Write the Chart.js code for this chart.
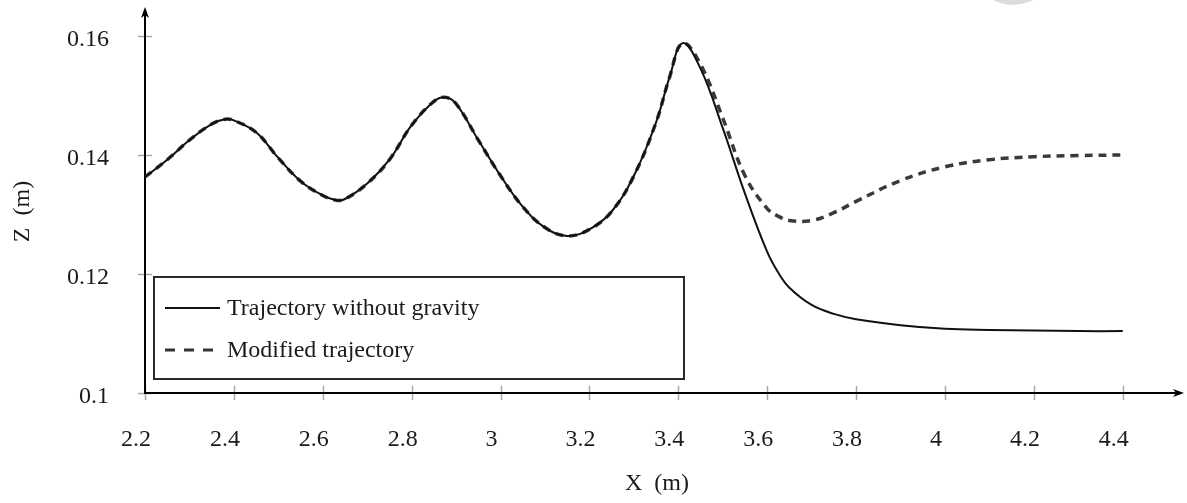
<!DOCTYPE html>
<html>
<head>
<meta charset="utf-8">
<script src="https://cdn.jsdelivr.net/npm/chart.js@4.4.1/dist/chart.umd.min.js"></script>
<style>
  html, body { margin: 0; padding: 0; background: #fff; }
  #wrap { width: 1187px; height: 503px; }
</style>
</head>
<body>
<div id="wrap"><canvas id="c" width="1187" height="503"></canvas></div>
<script>
// ---- data ----
const xValues = [2.2, 2.25, 2.3, 2.35, 2.38, 2.4, 2.45, 2.5, 2.55, 2.6, 2.63, 2.65, 2.7, 2.75, 2.8, 2.85, 2.875, 2.9, 2.95, 3.0, 3.05, 3.1, 3.15, 3.2, 3.25, 3.3, 3.35, 3.38, 3.41, 3.45, 3.5, 3.55, 3.6, 3.625, 3.65, 3.7, 3.75, 3.8, 3.9, 4.0, 4.1, 4.2, 4.3, 4.4];
const zWithoutGravity = [0.1363, 0.1392, 0.1425, 0.1452, 0.1460, 0.1458, 0.1438, 0.1395, 0.1356, 0.1332, 0.1324, 0.1326, 0.1352, 0.1392, 0.1450, 0.1490, 0.1497, 0.1486, 0.1425, 0.1365, 0.1313, 0.1278, 0.1264, 0.1275, 0.1305, 0.1365, 0.1455, 0.1530, 0.1588, 0.1545, 0.1445, 0.1335, 0.1237, 0.1202, 0.1177, 0.1148, 0.1133, 0.1124, 0.1114, 0.1108, 0.1106, 0.1105, 0.1104, 0.1104];
const zModified = [0.1363, 0.1392, 0.1425, 0.1452, 0.1460, 0.1458, 0.1438, 0.1395, 0.1356, 0.1332, 0.1324, 0.1326, 0.1352, 0.1392, 0.1450, 0.1490, 0.1497, 0.1486, 0.1425, 0.1365, 0.1313, 0.1278, 0.1264, 0.1275, 0.1305, 0.1365, 0.1455, 0.1530, 0.1588, 0.1552, 0.1462, 0.1365, 0.1310, 0.1297, 0.1290, 0.1290, 0.1303, 0.1322, 0.1357, 0.1380, 0.1392, 0.1397, 0.1399, 0.1400];
const xTickValues = [2.2, 2.4, 2.6, 2.8, 3.0, 3.2, 3.4, 3.6, 3.8, 4.0, 4.2, 4.4];
const xTickLabels = ['2.2', '2.4', '2.6', '2.8', '3', '3.2', '3.4', '3.6', '3.8', '4', '4.2', '4.4'];
const yTickValues = [0.1, 0.12, 0.14, 0.16];
const yTickLabels = ['0.1', '0.12', '0.14', '0.16'];
const seriesNames = ['Trajectory without gravity', 'Modified trajectory'];
const xTitle = 'X  (m)';
const yTitle = 'Z  (m)';

const FONT = 'Liberation Serif, Times New Roman, serif';
const FSIZE = 24;

const solidPoints = xValues.map((x, i) => ({ x: x, y: zWithoutGravity[i] }));
const dashedPoints = xValues.map((x, i) => ({ x: x, y: zModified[i] }));

const decorPlugin = {
  id: 'decor',
  beforeDraw(chart) {
    const ctx = chart.ctx;
    const xs = chart.scales.x, ys = chart.scales.y;
    const ca = chart.chartArea;
    ctx.save();
    ctx.strokeStyle = '#a8a8a8';
    ctx.lineWidth = 1.5;
    xTickValues.forEach(v => {
      const px = Math.round(xs.getPixelForValue(v)) + 0.5;
      ctx.beginPath();
      ctx.moveTo(px, ca.bottom - 7);
      ctx.lineTo(px, ca.bottom + 7);
      ctx.stroke();
    });
    yTickValues.forEach(v => {
      const py = Math.round(ys.getPixelForValue(v)) + 0.5;
      ctx.beginPath();
      ctx.moveTo(ca.left - 7, py);
      ctx.lineTo(ca.left + 7, py);
      ctx.stroke();
    });
    ctx.restore();
  },
  afterDraw(chart) {
    const ctx = chart.ctx;
    const ca = chart.chartArea;
    ctx.save();
    // axis arrows
    ctx.strokeStyle = '#000';
    ctx.fillStyle = '#000';
    ctx.lineWidth = 2;
    ctx.beginPath();
    ctx.moveTo(ca.left, ca.top);
    ctx.lineTo(ca.left, 12);
    ctx.stroke();
    ctx.beginPath();
    ctx.moveTo(ca.left, 7);
    ctx.lineTo(ca.left - 4, 18);
    ctx.lineTo(ca.left, 15);
    ctx.lineTo(ca.left + 4, 18);
    ctx.closePath();
    ctx.fill();
    ctx.beginPath();
    ctx.moveTo(ca.right, ca.bottom);
    ctx.lineTo(1178, ca.bottom);
    ctx.stroke();
    ctx.beginPath();
    ctx.moveTo(1184, ca.bottom);
    ctx.lineTo(1173, ca.bottom - 4);
    ctx.lineTo(1176, ca.bottom);
    ctx.lineTo(1173, ca.bottom + 4);
    ctx.closePath();
    ctx.fill();

    // legend box
    const lx = ca.left + 9, ly = 277, lw = 530, lh = 102;
    ctx.fillStyle = '#fff';
    ctx.fillRect(lx, ly, lw, lh);
    ctx.strokeStyle = '#2a2a2a';
    ctx.lineWidth = 2;
    ctx.strokeRect(lx, ly, lw, lh);
    // entry 1
    ctx.strokeStyle = '#111';
    ctx.lineWidth = 2;
    ctx.setLineDash([]);
    ctx.beginPath();
    ctx.moveTo(lx + 11, 308);
    ctx.lineTo(lx + 66, 308);
    ctx.stroke();
    // entry 2
    ctx.strokeStyle = '#333';
    ctx.lineWidth = 3;
    ctx.setLineDash([10, 9]);
    ctx.beginPath();
    ctx.moveTo(lx + 11, 350);
    ctx.lineTo(lx + 62, 350);
    ctx.stroke();
    ctx.setLineDash([]);
    ctx.fillStyle = '#1a1a1a';
    ctx.font = FSIZE + 'px ' + FONT;
    ctx.textBaseline = 'middle';
    ctx.textAlign = 'left';
    ctx.fillText(seriesNames[0], lx + 73, 309);
    ctx.fillText(seriesNames[1], lx + 73, 351);

    // faint gray blob at top edge
    ctx.fillStyle = '#dcdcdc';
    ctx.beginPath();
    ctx.arc(1013, -37, 42, 0, Math.PI * 2);
    ctx.fill();
    ctx.restore();
  }
};

new Chart(document.getElementById('c'), {
  type: 'line',
  data: {
    datasets: [
      {
        label: seriesNames[0],
        data: solidPoints,
        borderColor: '#111',
        borderWidth: 2,
        pointRadius: 0,
        fill: false,
        tension: 0.4
      },
      {
        label: seriesNames[1],
        data: dashedPoints,
        borderColor: '#3a3a3a',
        borderWidth: 3.5,
        borderDash: [8, 6],
        pointRadius: 0,
        fill: false,
        tension: 0.4
      }
    ]
  },
  options: {
    responsive: false,
    animation: false,
    devicePixelRatio: 1,
    layout: { padding: { top: 30, right: 18, left: 0, bottom: 0 } },
    plugins: { legend: { display: false }, tooltip: { enabled: false } },
    scales: {
      x: {
        type: 'linear',
        min: 2.2,
        max: 4.504,
        afterBuildTicks: s => { s.ticks = xTickValues.map(v => ({ value: v })); },
        afterFit: s => { s.height = 110; s.paddingLeft = 0; s.paddingRight = 0; },
        grid: { display: false, drawTicks: false },
        border: { display: true, color: '#000', width: 2 },
        ticks: {
          autoSkip: false,
          maxRotation: 0,
          padding: 32,
          labelOffset: -9,
          color: '#1a1a1a',
          font: { family: FONT, size: FSIZE },
          callback: (v, i) => xTickLabels[i]
        },
        title: {
          display: true,
          text: xTitle,
          color: '#1a1a1a',
          font: { family: FONT, size: FSIZE },
          padding: { top: 0, bottom: 5 }
        }
      },
      y: {
        type: 'linear',
        min: 0.1,
        max: 0.161,
        afterBuildTicks: s => { s.ticks = yTickValues.map(v => ({ value: v })); },
        afterFit: s => { s.width = 145; s.paddingTop = 0; s.paddingBottom = 0; },
        grid: { display: false, drawTicks: false },
        border: { display: true, color: '#000', width: 2 },
        ticks: {
          autoSkip: false,
          padding: 36,
          labelOffset: 4,
          color: '#1a1a1a',
          font: { family: FONT, size: FSIZE },
          callback: (v, i) => yTickLabels[i]
        },
        title: {
          display: true,
          text: yTitle,
          color: '#1a1a1a',
          font: { family: FONT, size: FSIZE },
          padding: { top: 8, bottom: 0 }
        }
      }
    }
  },
  plugins: [decorPlugin]
});
</script>
</body>
</html>
